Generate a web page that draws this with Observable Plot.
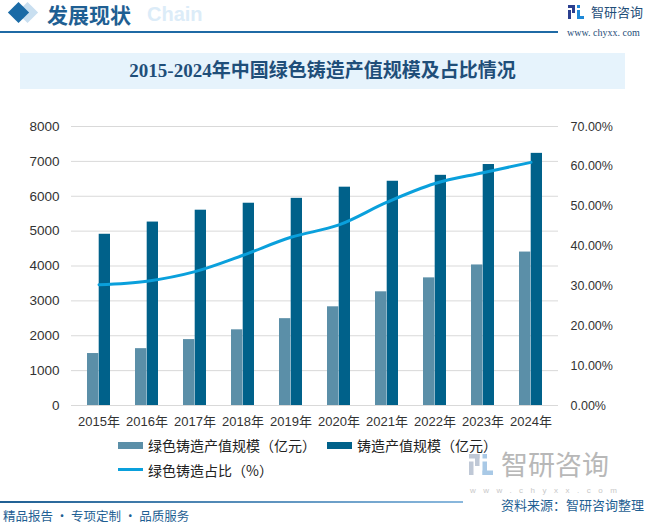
<!DOCTYPE html>
<html>
<head>
<meta charset="utf-8">
<script src="https://cdn.jsdelivr.net/npm/d3@7"></script>
<script src="https://cdn.jsdelivr.net/npm/@observablehq/plot@0.6"></script>
<style>
  html, body { margin: 0; padding: 0; background: #fff; }
  #page { position: relative; width: 648px; height: 525px; overflow: hidden; background: #fff;
          font-family: "Noto Sans CJK SC", "Liberation Sans", sans-serif; }
  .abs { position: absolute; white-space: nowrap; }
  #chart { position: absolute; left: 0; top: 110px; }
  .leg { position: absolute; font-size: 14px; color: #222; line-height: 18px; }
</style>
</head>
<body>
<div id="page">
  <!-- header -->
  <div class="abs" style="left:20px;top:5px;width:15px;height:15px;background:#c9dff0;transform:rotate(45deg);"></div>
  <div class="abs" style="left:11px;top:5px;width:15px;height:15px;background:#1a6aa6;transform:rotate(45deg);"></div>
  <div class="abs" style="left:147px;top:1px;font:bold 20px 'Liberation Sans',sans-serif;color:#dcecf8;line-height:26px;">Chain</div>
  <div class="abs" style="left:47px;top:1px;font-size:21px;font-weight:bold;color:#1f5f93;line-height:26px;">发展现状</div>
  <div class="abs" style="left:0;top:31px;width:558px;height:2px;background:#1f6aa5;"></div>
  <svg class="abs" style="left:568px;top:5px;" width="16" height="14" viewBox="0 0 16 14">
    <rect x="0" y="0" width="7" height="3" fill="#2b3f8f"/><rect x="4" y="0" width="3" height="8" fill="#2b3f8f"/>
    <rect x="0" y="5" width="3" height="9" fill="#2b3f8f"/><rect x="9" y="0" width="3" height="3" fill="#1e88d6"/>
    <rect x="9" y="5" width="3" height="9" fill="#1e88d6"/><rect x="9" y="11" width="7" height="3" fill="#1e88d6"/>
  </svg>
  <div class="abs" style="left:591px;top:3px;font-size:13px;color:#1f4e79;line-height:18px;">智研咨询</div>
  <div class="abs" style="left:567px;top:26px;font:10px 'Liberation Serif',serif;color:#1f4e79;line-height:13px;">www. chyxx. com</div>

  <!-- title -->
  <div class="abs" style="left:20px;top:53px;width:605px;height:36px;background:#e6f3fc;"></div>
  <div class="abs" style="left:20px;top:53px;width:605px;height:36px;line-height:36px;text-align:center;font-size:19px;font-weight:bold;color:#1f4e79;font-family:'Liberation Serif','Noto Sans CJK SC',serif;">2015-2024年中国绿色铸造产值规模及占比情况</div>

  <div id="chart"></div>

  <!-- legend -->
  <div class="abs" style="left:118px;top:442px;width:25px;height:7px;background:#5b8fa8;"></div>
  <div class="leg" style="left:148px;top:436px;">绿色铸造产值规模（亿元）</div>
  <div class="abs" style="left:327px;top:442px;width:25px;height:7px;background:#00618a;"></div>
  <div class="leg" style="left:357px;top:436px;">铸造产值规模（亿元）</div>
  <div class="abs" style="left:118px;top:468px;width:25px;height:3px;background:#0aa0dc;"></div>
  <div class="leg" style="left:148px;top:461px;">绿色铸造占比（%）</div>

  <!-- footer watermark logo -->
  <svg class="abs" style="left:468px;top:454px;" width="26" height="21" viewBox="0 0 16 14">
    <rect x="0" y="0" width="7" height="3" fill="#bfc8d6"/><rect x="4" y="0" width="3" height="8" fill="#bfc8d6"/>
    <rect x="0" y="5" width="3" height="9" fill="#bfc8d6"/><rect x="9" y="0" width="3" height="3" fill="#a9c9e6"/>
    <rect x="9" y="5" width="3" height="9" fill="#a9c9e6"/><rect x="9" y="11" width="7" height="3" fill="#a9c9e6"/>
  </svg>
  <div class="abs" style="left:501px;top:450px;font-size:27px;color:#b8b8b8;line-height:27px;">智研咨询</div>
  <div class="abs" style="left:470px;top:486px;font:8px 'Liberation Sans',sans-serif;color:#c8c8c8;letter-spacing:7.5px;line-height:9px;">www.chyxx.com</div>
  <div class="abs" style="left:0;top:501px;width:463px;height:2px;background:linear-gradient(to right,#1f5f93,#8ab8dd);"></div>
  <div class="abs" style="left:501px;top:497px;font-size:13px;color:#1f5f93;line-height:16px;">资料来源：智研咨询整理</div>
  <div class="abs" style="left:3px;top:508px;font-size:12.5px;color:#1f5f93;line-height:15px;">精品报告 · 专项定制 · 品质服务</div>
</div>
<script>
const years = ["2015年","2016年","2017年","2018年","2019年","2020年","2021年","2022年","2023年","2024年"];
const greenValue = [1490, 1630, 1890, 2170, 2490, 2830, 3260, 3660, 4030, 4400];
const totalValue = [4910, 5260, 5600, 5800, 5940, 6260, 6430, 6600, 6910, 7230];
const greenShare = [30.3, 31.2, 33.6, 37.7, 42.2, 45.3, 51.0, 55.7, 58.4, 61.0];
const leftTicks = [0, 1000, 2000, 3000, 4000, 5000, 6000, 7000, 8000];
const rightTicks = [0, 10, 20, 30, 40, 50, 60, 70];

const leftMax = 8000, rightMax = 70;
const toLeft = v => v / rightMax * leftMax;

const greenData = years.map((y, i) => ({year: y, value: greenValue[i]}));
const totalData = years.map((y, i) => ({year: y, value: totalValue[i]}));
const shareData = years.map((y, i) => ({year: y, value: greenShare[i]}));

const font = "'Liberation Sans', 'Noto Sans CJK SC', sans-serif";

const chart = Plot.plot({
  width: 648,
  height: 330,
  marginTop: 16,
  marginBottom: 35,
  marginLeft: 71,
  marginRight: 90,
  style: {fontFamily: font, fontSize: "13px", color: "#333", background: "transparent"},
  x: {type: "band", domain: years, paddingInner: 0.52, paddingOuter: 0.26, label: null},
  y: {domain: [0, leftMax], label: null},
  marks: [
    Plot.gridY(leftTicks, {stroke: "#d9d9d9", strokeOpacity: 1, strokeWidth: 1}),
    Plot.barY(greenData, {x: "year", y: "value", fill: "#5b8fa8", insetRight: 11.7}),
    Plot.barY(totalData, {x: "year", y: "value", fill: "#00618a", insetLeft: 11.7}),
    Plot.line(shareData, {x: "year", y: d => toLeft(d.value), stroke: "#0aa0dc", strokeWidth: 3, curve: "catmull-rom"}),
    Plot.axisX({tickSize: 0, tickPadding: 11, fontSize: 13, label: null}),
    Plot.axisY({anchor: "left", ticks: leftTicks, tickSize: 0, tickPadding: 12, fontSize: 13.5, label: null,
      tickFormat: d => String(d)}),
    Plot.axisY({anchor: "right", ticks: rightTicks.map(toLeft), tickSize: 0, tickPadding: 12, fontSize: 12.5,
      tickFormat: d => (d / leftMax * rightMax).toFixed(2) + "%", label: null})
  ]
});
document.getElementById("chart").appendChild(chart);
</script>
</body>
</html>
